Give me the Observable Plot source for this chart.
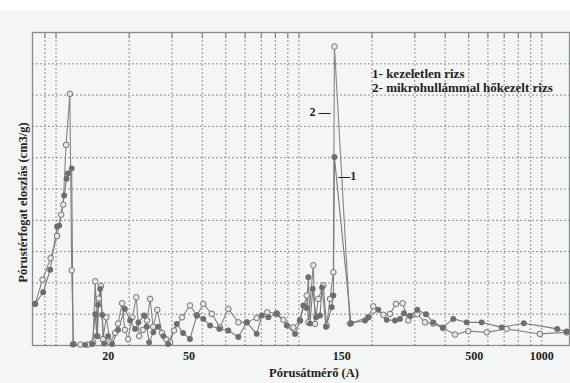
<!DOCTYPE html>
<html><head><meta charset="utf-8">
<script src="https://cdn.jsdelivr.net/npm/d3@7"></script>
<script src="https://cdn.jsdelivr.net/npm/@observablehq/plot@0.6"></script>
<style>
html,body{margin:0;padding:0;}
body{width:570px;height:383px;overflow:hidden;background:linear-gradient(#ffffff 0 11px,#f3f6f4 11px);}
svg{display:block;}
</style></head><body><div id="chart"></div>
<script>
// Series 2: mikrohullámmal hőkezelt rizs (open circles)
const diam2 = [8.2,8.8,9.5,10.1,10.5,10.7,11.0,11.4,11.6,11.8,12.6,13.5,14.2,14.5,14.8,15.0,15.3,15.6,16.1,16.7,17.5,18.0,18.7,19.2,19.8,20.6,21.4,22.0,22.8,23.7,24.4,25.1,26.1,27.3,28.4,29.5,30.6,33.0,35.6,38.0,40.4,43.8,47.3,51.2,56.3,61.0,67.0,74.1,81.0,86.3,94.8,101,107.7,109.3,114.6,116.5,120.2,126.0,130.1,134.3,138.6,140,162.3,193,202.4,222.5,237.1,251,267.4,281.9,307,330.3,357.4,392.9,439,497.9,592.8,716.3,982,1265];
const vol2  = [1.33,2.1,2.79,3.5,4.18,4.5,6.41,8.04,2.4,0.05,0.03,0.03,0.1,2.05,0.3,1.5,1.9,0.2,0.9,0.1,0.4,0.7,1.35,0.5,0.2,0.9,1.54,0.3,0.5,0.8,1.49,0.6,1.14,0.4,0.2,0.1,0.48,0.9,1.28,0.96,1.33,1.01,0.58,1.17,0.74,0.74,0.88,1.06,1.03,0.82,0.58,0.8,1.6,0.74,2.56,0.69,1.49,1.92,0.64,1.49,2.34,9.55,0.7,0.9,1.25,0.98,1.01,1.33,1.35,0.8,1.0,0.74,0.7,0.55,0.35,0.46,0.42,0.53,0.37,0.42];
// Series 1: kezeletlen rizs (filled dots)
const diam1 = [8.2,8.85,9.46,10.1,10.3,10.8,11.05,11.2,11.6,11.75,13.18,14.08,14.5,14.72,14.9,15.19,15.48,15.77,16.38,17.02,18.0,19.2,20.18,21.16,21.83,23.05,23.65,24.17,25.16,26.32,27.67,28.92,31.41,33.34,35.6,38.0,40.4,43.07,47.03,51.2,56.3,61.0,67.0,70.31,74.82,81.0,89.1,96.4,101,104.3,107.7,109.3,111.1,114.0,117.6,122.1,124.5,129.3,136.5,138.6,140,163.8,187.1,193,212.2,229.8,248.6,260.6,270.7,286.6,307,333.4,357.4,390.7,431.9,490.3,565.2,683.4,843.7,1157,1265];
const vol1  = [1.33,1.7,2.42,3.8,3.83,4.79,5.33,5.5,5.66,0.03,0.02,0.05,1.0,0.3,1.3,1.81,0.98,0.06,0.3,0.05,0.5,1.17,0.8,0.53,0.74,0.96,0.6,0.1,0.42,0.6,0.3,0.05,0.69,0.4,0.21,0.96,0.85,0.64,0.53,0.48,0.27,0.74,0.37,0.96,0.9,1.01,0.64,0.37,0.8,1.28,1.2,2.18,0.7,1.81,0.9,0.96,1.85,0.6,1.22,1.6,6.02,0.71,0.8,0.9,1.14,0.82,0.8,0.85,1.03,0.95,1.14,1.0,0.74,0.58,0.85,0.74,0.74,0.58,0.71,0.53,0.45];

const tickPositions = [16.4, 35.3, 150, 527, 1000];
const tickLabels = ["20", "50", "150", "500", "1000"];
const gridDiam = [9,10,20,30,40,50,60,70,80,90,100,200,300,400,500,600,700,800,900,1000];
const gridVol = [1,2,3,4,5,6,7,8,9];
const legendLines = ["1- kezeletlen rizs", "2- mikrohullámmal hőkezelt rizs"];
const xLabel = "Pórusátmérő (A)";
const yLabel = "Pórustérfogat eloszlás (cm3/g)";

const s2 = diam2.map((d,i)=>({d, v: vol2[i]}));
const s1 = diam1.map((d,i)=>({d, v: vol1[i]}));
const font = "'Liberation Serif', 'DejaVu Serif', serif";

const chart = Plot.plot({
  width: 570, height: 383,
  marginTop: 32, marginBottom: 38, marginLeft: 32, marginRight: 1,
  style: {background: "transparent", fontFamily: font, color: "#222"},
  x: {type: "log", domain: [8, 1300], axis: null},
  y: {domain: [0, 10], axis: null},
  marks: [
    Plot.gridX(gridDiam, {stroke: "#8f8f8f", strokeOpacity: 1, strokeDasharray: "2,2"}),
    Plot.gridY(gridVol, {stroke: "#8f8f8f", strokeOpacity: 1, strokeDasharray: "2,2"}),
    Plot.ruleX(gridDiam, {y1: () => 0, y2: () => 0.15, insetBottom: -4, stroke: "#777"}),
    Plot.ruleX(gridDiam, {y1: () => 9.8, y2: () => 10, stroke: "#777"}),
    Plot.frame({stroke: "#8a8a8a", strokeWidth: 1.3}),
    Plot.line(s2, {x: "d", y: "v", stroke: "#858585", strokeWidth: 1.1}),
    Plot.line(s1, {x: "d", y: "v", stroke: "#7a7a7a", strokeWidth: 1.1}),
    Plot.dot(s2, {x: "d", y: "v", r: 2.8, fill: "#e6e6e6", stroke: "#737373", strokeWidth: 1}),
    Plot.dot(s1, {x: "d", y: "v", r: 2.2, fill: "#6e6e6e", stroke: "#6e6e6e"}),
    Plot.text(tickLabels, {x: (d, i) => tickPositions[i], frameAnchor: "bottom", dy: 11, lineAnchor: "middle", fontSize: 12, fontWeight: "bold"}),
    Plot.text([xLabel], {frameAnchor: "bottom", dx: 13, dy: 27, fontSize: 12.5, fontWeight: "bold", lineAnchor: "middle"}),
    Plot.text([yLabel], {frameAnchor: "left", y: () => 4.57, dx: -10, rotate: -90, textAnchor: "middle", fontSize: 12.5, fontWeight: "bold"}),
    Plot.text(legendLines, {x: () => 200, y: (d, i) => [8.69, 8.24][i], textAnchor: "start", fontSize: 13, fontWeight: "bold"}),
    Plot.text(["2 —"], {x: () => 122, y: () => 7.45, fontSize: 12, fontWeight: "bold"}),
    Plot.text(["—1"], {x: () => 158, y: () => 5.4, fontSize: 12, fontWeight: "bold"})
  ]
});
document.getElementById("chart").appendChild(chart);
</script>
</body></html>
